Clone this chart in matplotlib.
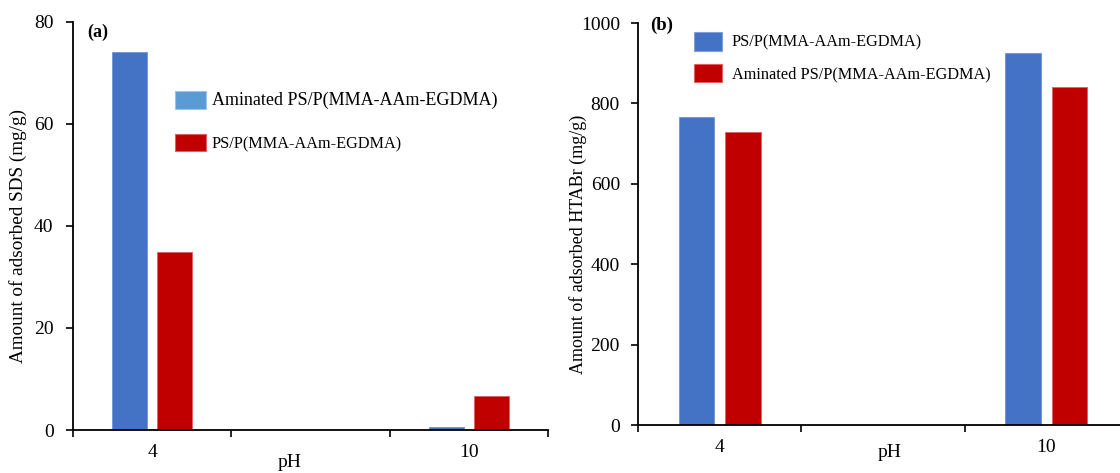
import matplotlib
matplotlib.use("Agg")
import matplotlib.pyplot as plt
from matplotlib.patches import Patch
import numpy as np

plt.rcParams['font.family'] = ['Liberation Serif', 'DejaVu Serif']

# ---- data ----
categories = ["4", "", "10"]
sds_aminated = [74.1, 0.0, 0.6]
sds_plain = [34.9, 0.0, 6.7]
htabr_plain = [766, 0, 925]
htabr_aminated = [729, 0, 841]
label_aminated = "Aminated PS/P(MMA-AAm-EGDMA)"
label_plain = "PS/P(MMA-AAm-EGDMA)"

blue = "#4472C4"
blue_light = "#5B9BD5"
red = "#C00000"

fig = plt.figure(figsize=(11.2, 4.73), dpi=100)

x = np.arange(len(categories))
w = 0.22
off = 0.142
TICK = 14

# ---------- panel (a) ----------
axa = fig.add_axes([73/1120, 1-430/473, 475/1120, 408/473])
axa.bar(x - off, sds_aminated, w, color=blue, edgecolor="#6f95d6", linewidth=0.6)
axa.bar(x + off, sds_plain, w, color=red, edgecolor="#e06060", linewidth=0.6)
axa.set_xlim(-0.5, 2.5)
axa.set_ylim(0, 80)
axa.set_yticks([0, 20, 40, 60, 80])
axa.set_xticks([0, 2])
axa.set_xticklabels([categories[0], categories[2]])
axa.set_xticks([-0.5, 0.5, 1.5, 2.5], minor=True)
axa.tick_params(axis='x', which='major', length=0, pad=10, labelsize=TICK)
axa.tick_params(axis='x', which='minor', length=5, width=1.2, direction='out')
axa.tick_params(axis='y', length=5, width=1.2, pad=9, labelsize=TICK)
axa.set_ylabel("Amount of adsorbed SDS (mg/g)", fontsize=13.8)
axa.yaxis.set_label_coords(-0.096, 0.475)
axa.set_xlabel("pH", fontsize=TICK)
axa.xaxis.set_label_coords(0.455, -0.058)
for s in ["top", "right"]:
    axa.spines[s].set_visible(False)
for s in ["left", "bottom"]:
    axa.spines[s].set_linewidth(1.3)
axa.text((87-73)/475, 1-(32-22)/408, "(a)", transform=axa.transAxes, fontsize=13,
         fontweight='bold', va='center', ha='left')
handles_a = [Patch(facecolor=blue_light, edgecolor="#9cc3e8", linewidth=0.8),
             Patch(facecolor=red, edgecolor="#e06060", linewidth=0.8)]
lega = axa.legend(handles_a, [label_aminated, label_plain], frameon=False,
                  loc='upper left', bbox_to_anchor=((175-73)/475, 0.83),
                  borderpad=0, borderaxespad=0,
                  handlelength=1.9, handleheight=1.25, labelspacing=1.5,
                  handletextpad=0.37, fontsize=11.7)
lega.get_texts()[0].set_fontsize(13)

# ---------- panel (b) ----------
axb = fig.add_axes([638/1120, 1-425/473, 490/1120, 402/473])
axb.bar(x - off, htabr_plain, w, color=blue, edgecolor="#6f95d6", linewidth=0.6)
axb.bar(x + off, htabr_aminated, w, color=red, edgecolor="#e06060", linewidth=0.6)
axb.set_xlim(-0.5, 2.5)
axb.set_ylim(0, 1000)
axb.set_yticks([0, 200, 400, 600, 800, 1000])
axb.set_xticks([0, 2])
axb.set_xticklabels([categories[0], categories[2]])
axb.set_xticks([-0.5, 0.5, 1.5, 2.5], minor=True)
axb.tick_params(axis='x', which='major', length=0, pad=10, labelsize=TICK)
axb.tick_params(axis='x', which='minor', length=5, width=1.2, direction='out')
axb.tick_params(axis='y', length=5, width=1.2, pad=8, labelsize=TICK)
axb.set_ylabel("Amount of adsorbed HTABr (mg/g)", fontsize=13)
axb.yaxis.set_label_coords(-0.104, 0.45)
axb.set_xlabel("pH", fontsize=TICK)
axb.xaxis.set_label_coords(0.514, -0.047)
for s in ["top", "right"]:
    axb.spines[s].set_visible(False)
for s in ["left", "bottom"]:
    axb.spines[s].set_linewidth(1.3)
axb.text((650-638)/490, 1-(25-23)/402, "(b)", transform=axb.transAxes, fontsize=13.5,
         fontweight='bold', va='center', ha='left')
handles_b = [Patch(facecolor=blue, edgecolor="#7fa0dd", linewidth=0.8),
             Patch(facecolor=red, edgecolor="#e06060", linewidth=0.8)]
legb = axb.legend(handles_b, [label_plain, label_aminated], frameon=False,
                  loc='upper left', bbox_to_anchor=((694-638)/490, 0.978),
                  borderpad=0, borderaxespad=0,
                  handlelength=1.72, handleheight=1.4, labelspacing=0.8,
                  handletextpad=0.6, fontsize=11.7)

fig.savefig("out.png", dpi=100)
